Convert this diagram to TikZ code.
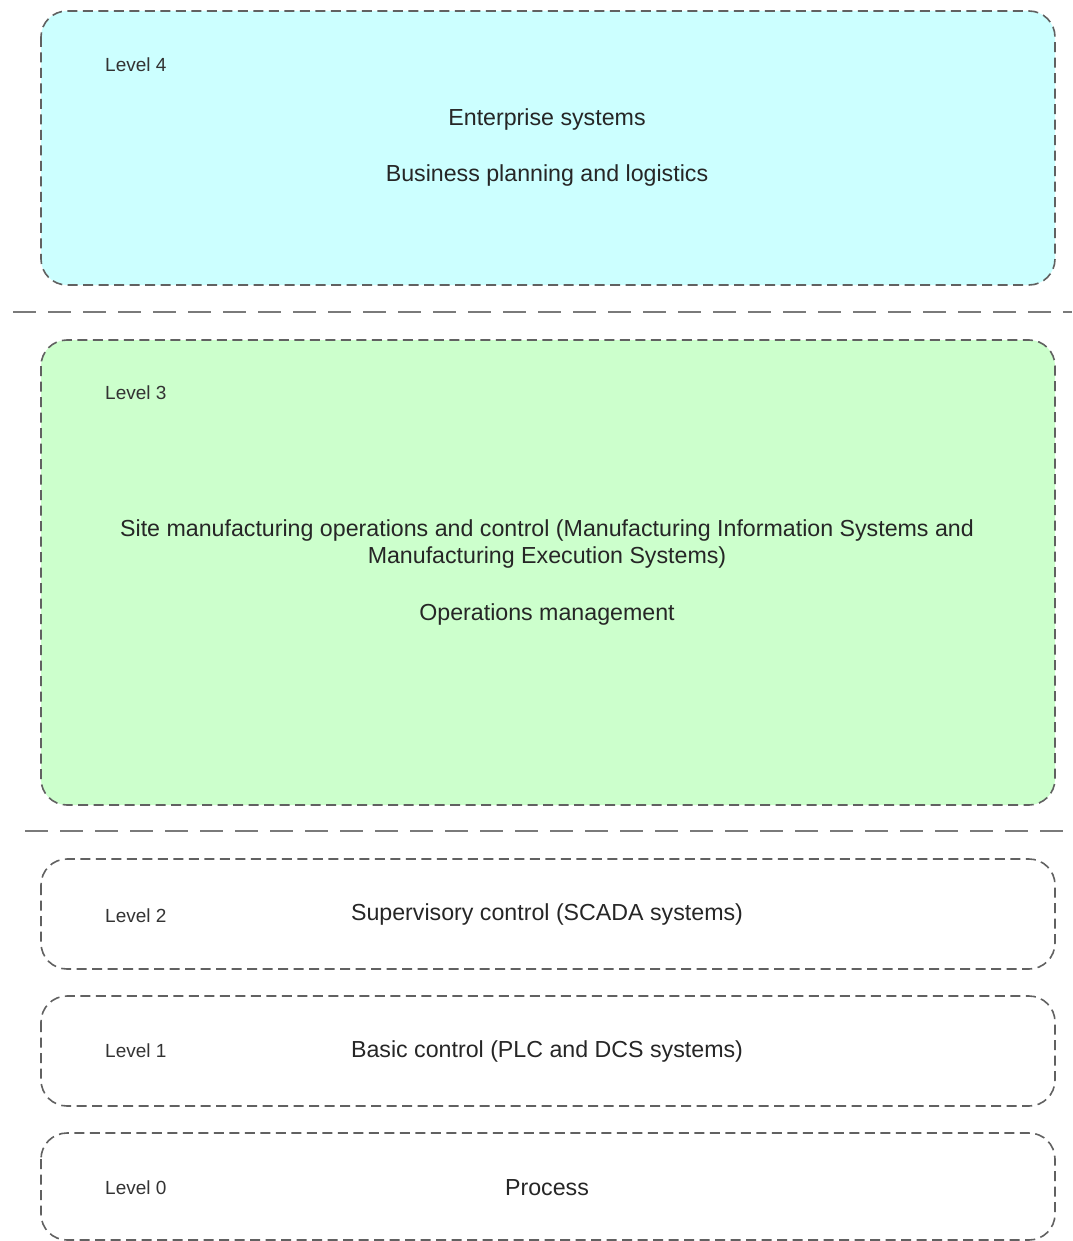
\documentclass[tikz,border=0pt]{standalone}
\usepackage{fontspec}
\setmainfont{Liberation Sans}
\begin{document}
\begin{tikzpicture}[x=1pt,y=-1pt,
  levelbox/.style={draw=black!62, line width=1.6pt, dash pattern=on 10pt off 5.5pt, rounded corners=26pt},
  sepline/.style={draw=black!52, line width=2.2pt, dash pattern=on 23pt off 12pt},
  lvl/.style={anchor=west, font=\fontsize{19}{22}\selectfont, text=black!80, inner sep=0pt},
  main/.style={align=center, font=\fontsize{23.2}{27.5}\selectfont, text=black!85, inner sep=0pt}]
  \useasboundingbox (0,0) rectangle (1072,1241);
  % level boxes
  \draw[levelbox, fill={rgb,255:red,204;green,255;blue,255}] (41,11) rectangle (1055,285);
  \draw[levelbox, fill={rgb,255:red,204;green,255;blue,204}] (41,340) rectangle (1055,805);
  \draw[levelbox] (41,859) rectangle (1055,969);
  \draw[levelbox] (41,996) rectangle (1055,1106);
  \draw[levelbox] (41,1133) rectangle (1055,1240);
  % separators between the network zones
  \coordinate (s1a) at (13,312);  \coordinate (s1b) at (1072,312);
  \coordinate (s2a) at (25,831);  \coordinate (s2b) at (1072,831);
  \draw[sepline] (s1a) -- (s1b);
  \draw[sepline] (s2a) -- (s2b);
  % level labels
  \node[lvl] (l4) at (105,65) {Level 4};
  \node[lvl] (l3) at (105,393) {Level 3};
  \node[lvl] (l2) at (105,916) {Level 2};
  \node[lvl] (l1) at (105,1051) {Level 1};
  \node[lvl] (l0) at (105,1188) {Level 0};
  % descriptions
  \node[main] (t4a) at (547,120) {Enterprise systems};
  \node[main] (t4b) at (547,176) {Business planning and logistics};
  \node[main] (t3a) at (547,544) {Site manufacturing operations and control (Manufacturing Information Systems and\\Manufacturing Execution Systems)};
  \node[main] (t3b) at (547,614) {Operations management};
  \node[main] (t2) at (547,914) {Supervisory control (SCADA systems)};
  \node[main] (t1) at (547,1051) {Basic control (PLC and DCS systems)};
  \node[main] (t0) at (547,1188) {Process};
\end{tikzpicture}
\end{document}
